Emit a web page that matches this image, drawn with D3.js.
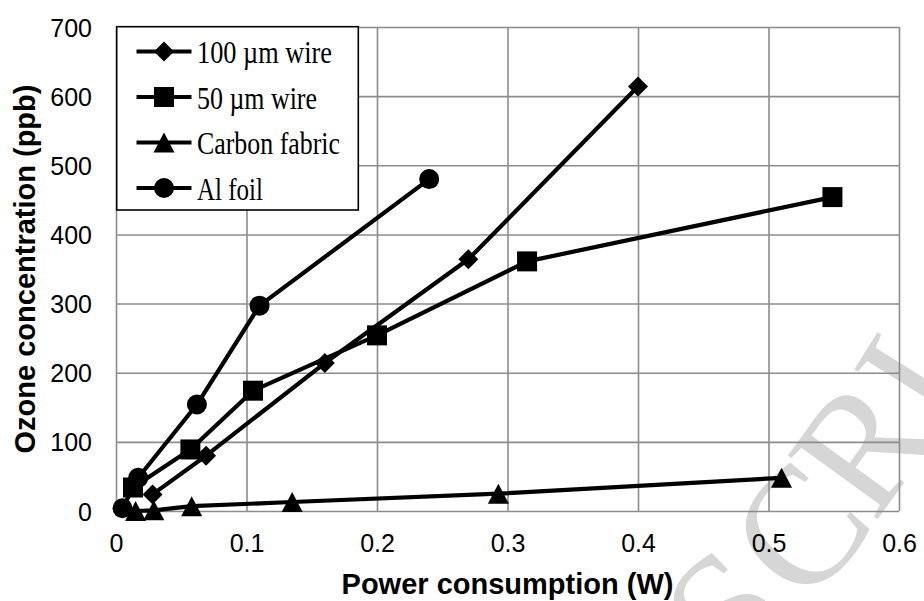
<!DOCTYPE html>
<html><head><meta charset="utf-8">
<script src="https://cdn.jsdelivr.net/npm/d3@7"></script>
<style>body{margin:0;background:#fff;} svg{display:block}</style>
</head><body>
<svg id="c" width="924" height="601"></svg>
<script>
// ---- data ----
const seriesNames = ["100 µm wire", "50 µm wire", "Carbon fabric", "Al foil"];
const seriesMarkers = ["diamond", "square", "triangle", "circle"];
const wire100X = [0.028, 0.069, 0.160, 0.270, 0.400];
const wire100Y = [24, 80, 214, 364, 614];
const wire50X = [0.013, 0.057, 0.105, 0.200, 0.315, 0.549];
const wire50Y = [34, 89, 174, 254, 361, 454];
const carbonX = [0.015, 0.029, 0.058, 0.135, 0.293, 0.510];
const carbonY = [0, 1, 7, 13, 25, 48];
const alfoilX = [0.005, 0.017, 0.062, 0.110, 0.240];
const alfoilY = [4, 48, 154, 297, 480];
const xTicks = [0, 0.1, 0.2, 0.3, 0.4, 0.5, 0.6];
const xTickLabels = ["0", "0.1", "0.2", "0.3", "0.4", "0.5", "0.6"];
const yTicks = [0, 100, 200, 300, 400, 500, 600, 700];
const yTickLabels = ["0", "100", "200", "300", "400", "500", "600", "700"];
const xTitle = "Power consumption (W)";
const yTitle = "Ozone concentration (ppb)";
const watermark = ["S", "C", "R", "I"];

const seriesX = [wire100X, wire50X, carbonX, alfoilX];
const seriesY = [wire100Y, wire50Y, carbonY, alfoilY];

// ---- layout ----
const svg = d3.select("#c");
const L = 116, R = 899, T = 27, B = 511;
const x = d3.scaleLinear().domain([0, 0.6]).range([L, R]);
const y = d3.scaleLinear().domain([0, 700]).range([B, T]);

// watermark (behind everything)
const wm = svg.append("g").attr("fill", "#d6d6d6")
  .style("font-family", "'Liberation Serif','Times New Roman',serif")
  .style("font-size", "168px");
const wmPos = [[726, 612, -44], [800, 530, -49], [862, 446, -54], [912, 380, -58]];
watermark.forEach((ch, i) => {
  wm.append("text").attr("text-anchor", "middle").attr("dy", "0.33em")
    .attr("transform", `translate(${wmPos[i][0]},${wmPos[i][1]}) rotate(${wmPos[i][2]})`)
    .text(ch);
});

// gridlines via axes
const gridColor = "#8c8c8c";
const gx = svg.append("g").attr("transform", `translate(0,${B})`)
  .call(d3.axisBottom(x).tickValues(xTicks).tickSize(-(B - T)).tickFormat((d, i) => xTickLabels[i]));
gx.select(".domain").remove();
gx.selectAll(".tick line").attr("stroke", gridColor).attr("stroke-width", 1.6);
gx.selectAll(".tick text").attr("y", 0).attr("dy", 0)
  .attr("transform", "translate(0,41)")
  .style("font-family", "'Liberation Sans',Arial,sans-serif").style("font-size", "25px").attr("fill", "#000");

const gy = svg.append("g").attr("transform", `translate(${L},0)`)
  .call(d3.axisLeft(y).tickValues(yTicks).tickSize(-(R - L)).tickFormat((d, i) => yTickLabels[i]));
gy.select(".domain").remove();
gy.selectAll(".tick line").attr("stroke", gridColor).attr("stroke-width", 1.6);
gy.selectAll(".tick text").attr("x", -24).attr("dy", "0.36em")
  .style("font-family", "'Liberation Sans',Arial,sans-serif").style("font-size", "25px").attr("fill", "#000");

// axis titles
svg.append("text").attr("x", (L + R) / 2).attr("y", 594).attr("text-anchor", "middle")
  .style("font-family", "'Liberation Sans',Arial,sans-serif").style("font-size", "29px").style("font-weight", "bold")
  .text(xTitle);
svg.append("text").attr("transform", `translate(35,${(T + B) / 2}) rotate(-90)`).attr("text-anchor", "middle")
  .style("font-family", "'Liberation Sans',Arial,sans-serif").style("font-size", "29px").style("font-weight", "bold")
  .text(yTitle);

// markers
function markerPath(type) {
  if (type === "diamond") return "M0,-10L10,0L0,10L-10,0Z";
  if (type === "square") return "M-10,-10H10V10H-10Z";
  if (type === "triangle") return "M0,-10L10.5,10L-10.5,10Z";
  return "M-10,0A10,10 0 1,0 10,0A10,10 0 1,0 -10,0Z";
}

const line = d3.line().x(d => x(d[0])).y(d => y(d[1]));
const plot = svg.append("g");
seriesX.forEach((xs, s) => {
  const pts = xs.map((v, i) => [v, seriesY[s][i]]);
  const g = plot.append("g");
  g.append("path").attr("d", line(pts)).attr("fill", "none").attr("stroke", "#000")
    .attr("stroke-width", 4.2).attr("stroke-linejoin", "round");
  g.selectAll("path.m").data(pts).enter().append("path").attr("class", "m")
    .attr("d", markerPath(seriesMarkers[s]))
    .attr("transform", d => `translate(${x(d[0])},${y(d[1])})`).attr("fill", "#000");
});

// legend
const leg = svg.append("g");
leg.append("rect").attr("x", 116.7).attr("y", 26.7).attr("width", 241.6).attr("height", 183.3)
  .attr("fill", "#fff").attr("stroke", "#000").attr("stroke-width", 1.6);
const legWidths = [135, 120, 143, 66];
seriesNames.forEach((name, i) => {
  const cy = 51.5 + i * 45.5;
  leg.append("line").attr("x1", 136.5).attr("x2", 191.5).attr("y1", cy).attr("y2", cy)
    .attr("stroke", "#000").attr("stroke-width", 4.2);
  leg.append("path").attr("d", markerPath(seriesMarkers[i])).attr("transform", `translate(164,${cy})`).attr("fill", "#000");
  leg.append("text").attr("x", 197).attr("y", cy + 11.8)
    .attr("textLength", legWidths[i]).attr("lengthAdjust", "spacingAndGlyphs")
    .style("font-family", "'Liberation Serif','Times New Roman',serif").style("font-size", "32px")
    .text(name);
});
</script>
</body></html>
